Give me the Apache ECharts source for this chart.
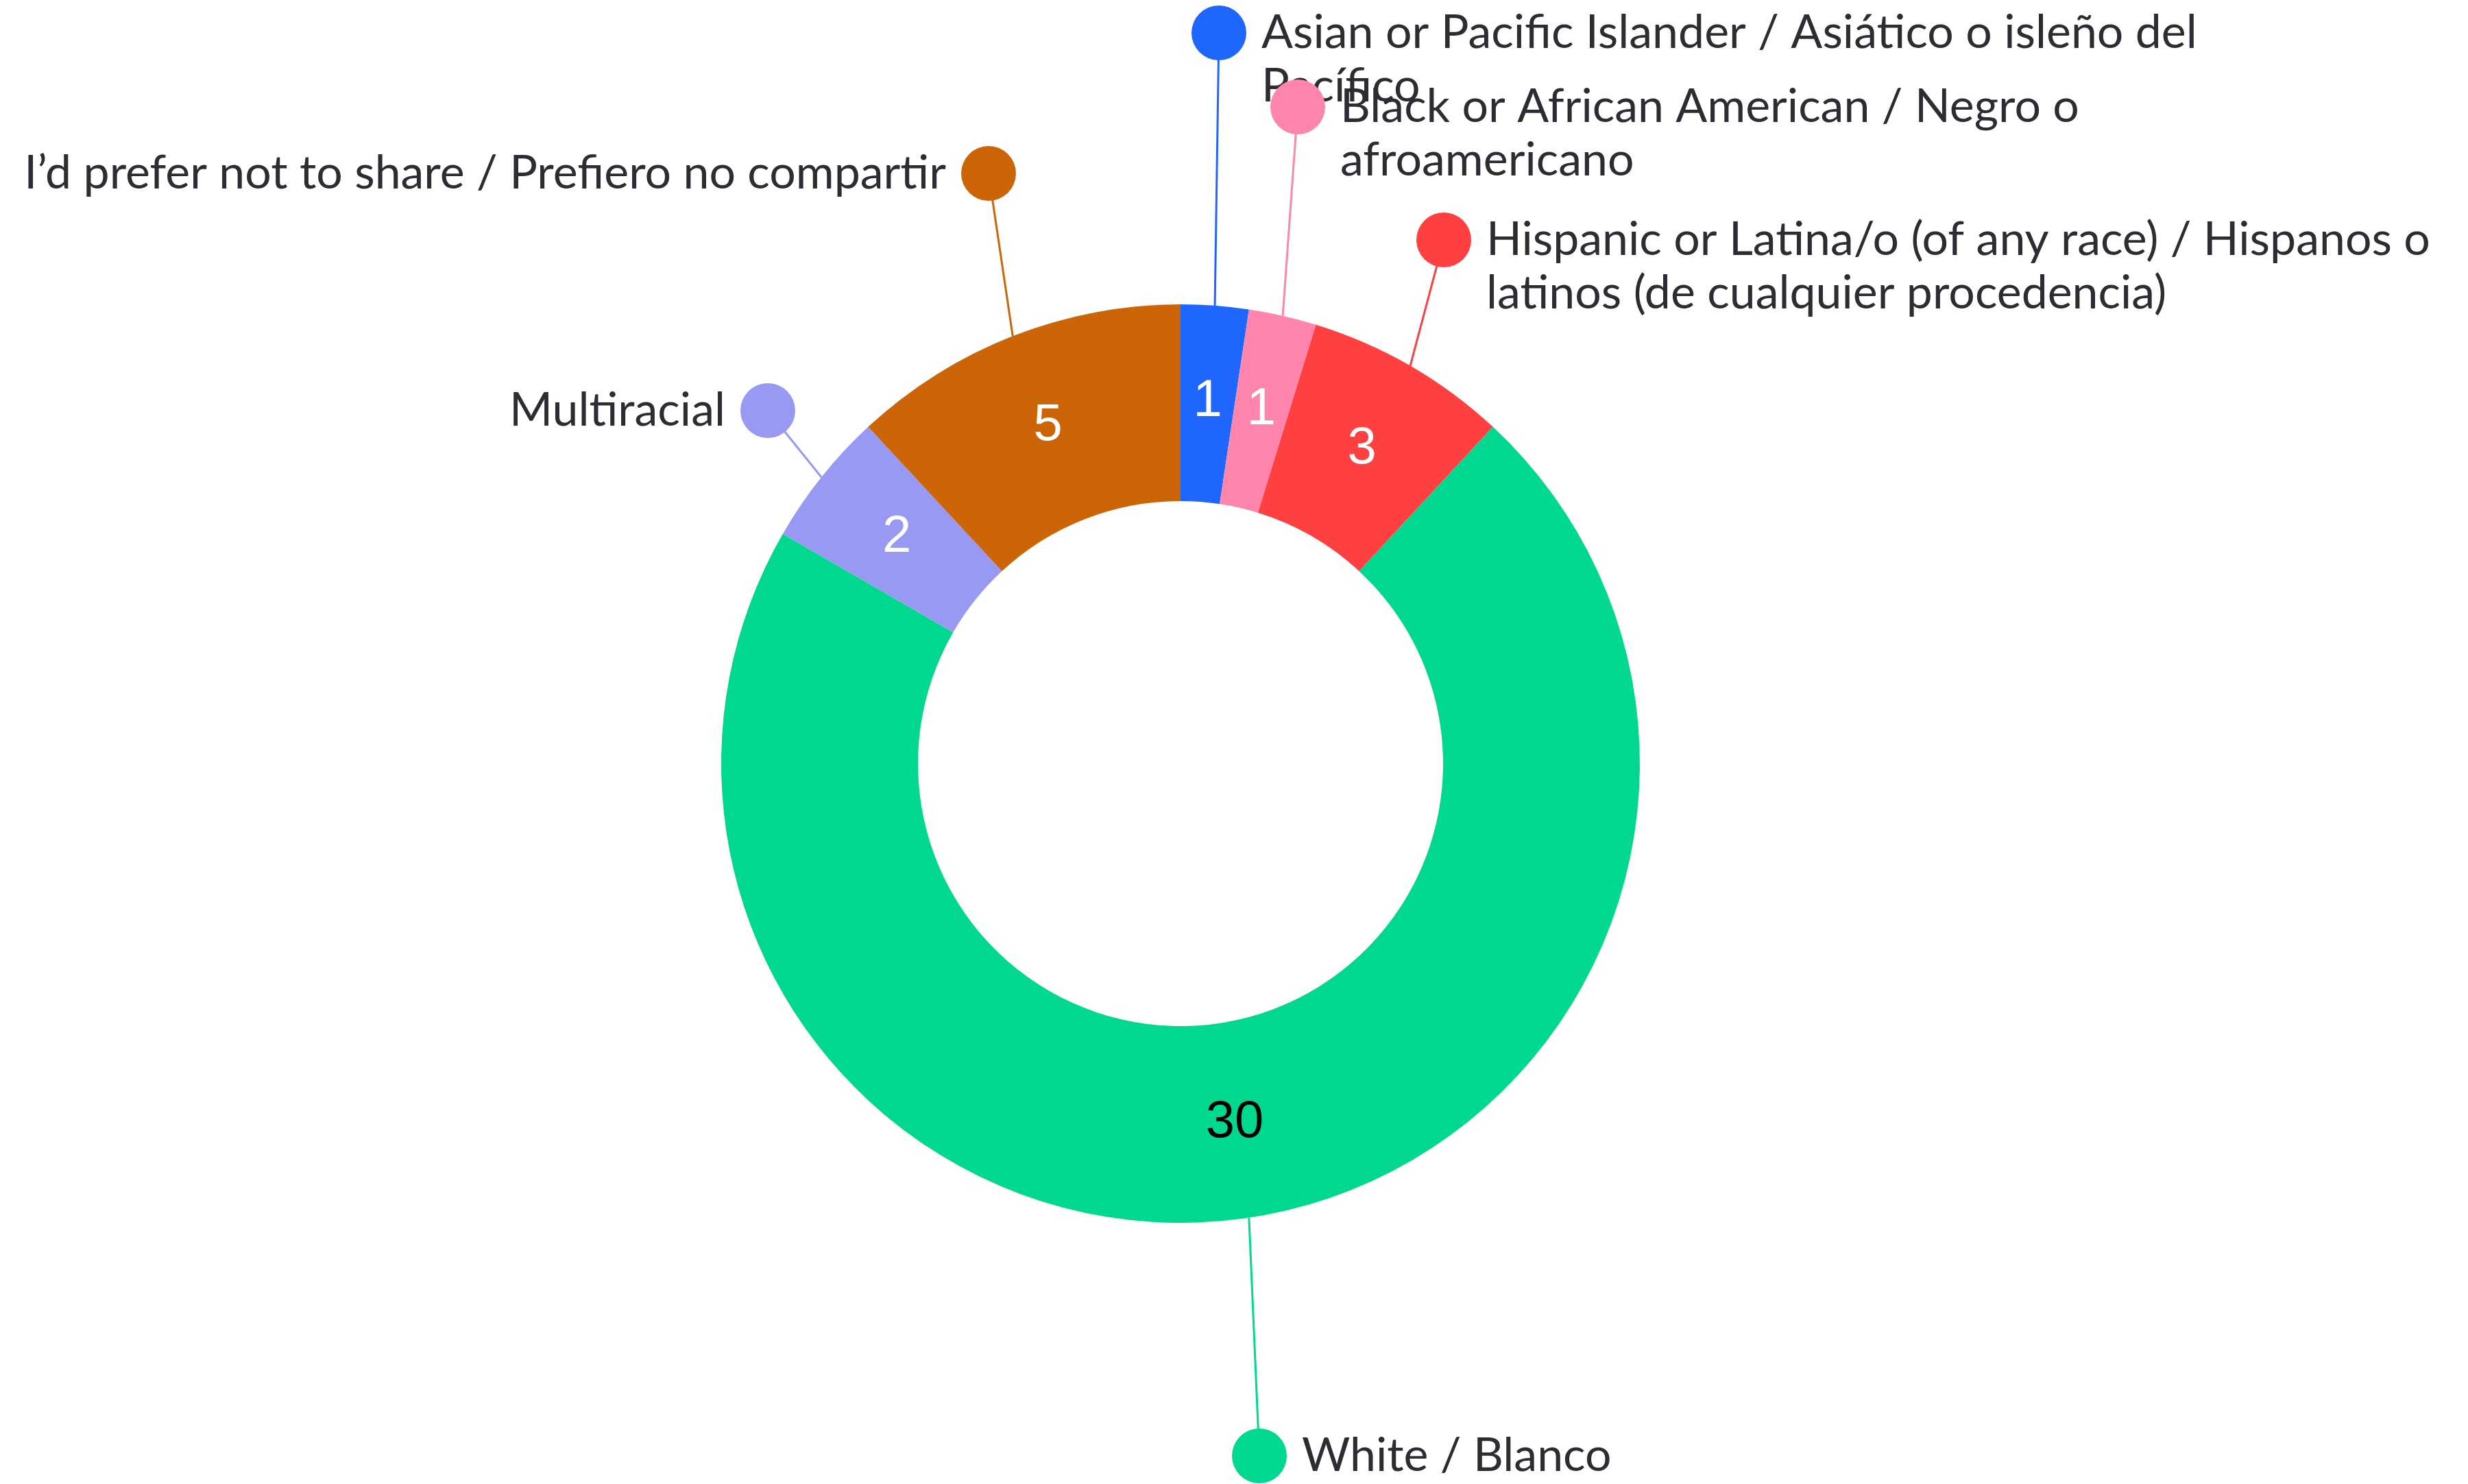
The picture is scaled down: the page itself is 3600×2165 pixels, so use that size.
<!DOCTYPE html>
<html>
<head>
<meta charset="utf-8">
<style>
  html, body { margin: 0; padding: 0; background: #fff; }
  #main { width: 3600px; height: 2165px; }
</style>
<script src="https://cdn.jsdelivr.net/npm/echarts@6/dist/echarts.min.js"></script>
</head>
<body>
<div id="main"></div>
<script>
// data
var categories = [
  'Asian or Pacific Islander / Asiático o isleño del\nPacífico',
  'Black or African American / Negro o\nafroamericano',
  'Hispanic or Latina/o (of any race) / Hispanos o\nlatinos (de cualquier procedencia)',
  'White / Blanco',
  'Multiracial',
  'I’d prefer not to share / Prefiero no compartir'
];
var counts = [1, 1, 3, 30, 2, 5];
var colors = ['#1f66ff', '#ff85ad', '#ff4040', '#00d890', '#9799f3', '#cc6508'];
var valueColors = ['#fff', '#fff', '#fff', '#000', '#fff', '#fff'];

// where each label's dot sits, and which side the text goes
var dotPos = [[1778, 48], [1893, 156], [2106, 350], [1837, 2124], [1120, 599], [1442, 253]];
var textSide = ['right', 'right', 'right', 'right', 'left', 'left'];

var cx = 1722, cy = 1114, rIn = 383, rOut = 670;
var dotR = 40, gap = 22;

var chart = echarts.init(document.getElementById('main'));

var rich = {
  t: { fontFamily: 'Lato', fontSize: 68, lineHeight: 76, color: '#2b2d33' },
  g: { width: gap, height: 2 },
  s: { width: dotR * 2 + gap, height: 2 }
};
colors.forEach(function (c, i) {
  rich['d' + i] = { width: dotR * 2, height: dotR * 2, borderRadius: dotR, backgroundColor: c };
});

function labelText(i) {
  var lines = categories[i].split('\n');
  if (textSide[i] === 'right') {
    var s = '{d' + i + '|}{g|}{t|' + lines[0] + '}';
    for (var k = 1; k < lines.length; k++) s += '\n{s|}{t|' + lines[k] + '}';
    return s;
  }
  return '{t|' + lines[0] + '}{g|}{d' + i + '|}';
}

var total = counts.reduce(function (a, b) { return a + b; }, 0);
function edgePoint(i) {
  var before = 0;
  for (var k = 0; k < i; k++) before += counts[k];
  var a = (before + counts[i] / 2) / total * Math.PI * 2;
  return [cx + rOut * Math.sin(a), cy - rOut * Math.cos(a)];
}

var pieData = categories.map(function (n, i) {
  return { name: n, value: counts[i] };
});

var option = {
  color: colors,
  animation: false,
  series: [
    {
      // outer labels with dot + leader line
      type: 'pie',
      center: [cx, cy],
      radius: [rIn, rOut],
      silent: true,
      avoidLabelOverlap: false,
      itemStyle: { opacity: 0 },
      label: {
        show: true,
        position: 'outside',
        opacity: 1,
        formatter: function (p) { return labelText(p.dataIndex); },
        rich: rich
      },
      labelLine: { show: true, lineStyle: { width: 3, opacity: 1 } },
      labelLayout: function (p) {
        var i = p.dataIndex;
        var d = dotPos[i];
        var start = (p.labelLinePoints && p.labelLinePoints[0]) || edgePoint(i);
        var right = textSide[i] === 'right';
        return {
          x: right ? d[0] - dotR : d[0] + dotR,
          y: d[1] - dotR,
          align: right ? 'left' : 'right',
          verticalAlign: 'top',
          labelLinePoints: [start, d]
        };
      },
      data: pieData
    },
    {
      // slices with value labels
      type: 'pie',
      center: [cx, cy],
      radius: [rIn, rOut],
      silent: true,
      label: {
        show: true,
        position: 'inside',
        fontFamily: 'Liberation Sans',
        fontSize: 76,
        formatter: '{c}'
      },
      labelLine: { show: false },
      data: pieData.map(function (d, i) {
        return { name: d.name, value: d.value, label: { color: valueColors[i] } };
      })
    }
  ]
};

chart.setOption(option);
</script>
</body>
</html>
